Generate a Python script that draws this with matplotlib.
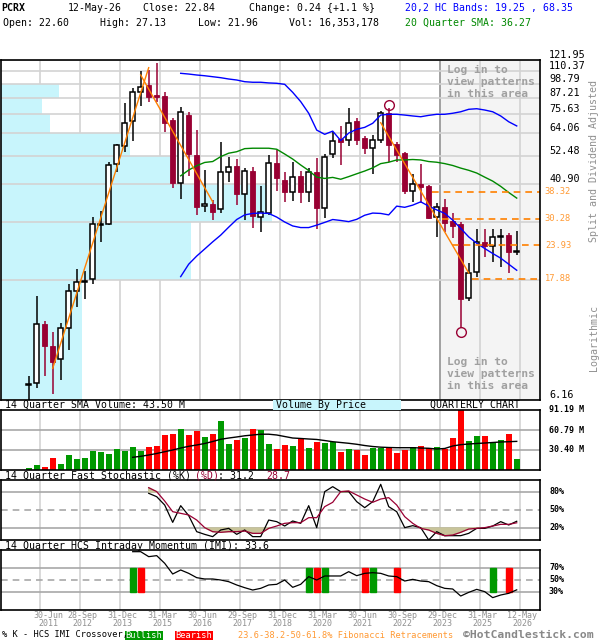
import numpy as np
import matplotlib
matplotlib.use('Agg')
import matplotlib.pyplot as plt
from matplotlib.patches import Rectangle

# Quarterly candles, Q1 2011 .. Q2 2026 (index 0..61)
opens = [7.00, 7.17, 11.97, 9.90, 8.81, 11.62, 15.98, 17.30, 17.78, 28.6,
         28.96, 48.8, 57.5, 71.6, 92.3, 97.9, 89.6, 88.9, 72.0, 41.3,
         75.2, 52.95, 33.8, 34.35, 32.9, 45.5, 48.0, 37.5, 46.0, 30.8,
         31.7, 49.2, 42.5, 38.4, 44.0, 38.2, 45.5, 33.2, 53.3, 60.9,
         60.3, 71.4, 61.3, 56.2, 60.4, 76.4, 58.2, 53.8, 38.7, 40.9,
         40.3, 30.8, 33.45, 29.7, 28.9, 15.05, 19.0, 24.7, 23.9, 25.85,
         26.2, 22.60]
highs = [7.60, 15.4, 12.36, 11.16, 12.08, 17.06, 19.46, 19.1, 30.8, 32.4,
         49.7, 58.4, 83.4, 95.1, 110.7, 111.7, 118.8, 92.3, 73.1, 80.9,
         77.0, 65.9, 46.4, 35.7, 59.2, 52.2, 51.1, 47.4, 47.5, 40.3,
         52.95, 55.3, 45.5, 49.7, 46.0, 47.1, 51.4, 53.3, 64.6, 68.5,
         79.8, 73.5, 62.6, 63.1, 77.9, 80.0, 59.5, 54.5, 44.7, 48.9,
         40.7, 34.6, 36.0, 31.7, 29.3, 20.6, 27.6, 27.6, 27.6, 27.6,
         26.7, 27.13]
lows = [6.16, 6.83, 7.63, 6.50, 7.34, 9.55, 13.97, 15.0, 17.1, 24.7,
        28.6, 45.7, 54.2, 59.9, 81.6, 84.6, 84.0, 65.0, 39.5, 35.9,
        44.1, 31.3, 32.2, 29.9, 31.7, 41.7, 34.1, 29.9, 27.8, 27.0,
        31.3, 38.6, 35.1, 35.3, 34.6, 35.1, 27.6, 30.5, 51.4, 48.5,
        57.5, 57.8, 53.4, 44.8, 58.7, 49.9, 50.0, 37.6, 35.1, 34.8,
        30.1, 25.8, 27.0, 25.5, 11.6, 14.7, 18.2, 21.7, 20.75, 19.85,
        18.8, 21.96]
closes = [7.12, 11.97, 9.93, 8.62, 11.56, 16.0, 17.4, 17.45, 28.8, 29.0,
          48.4, 57.8, 69.95, 91.8, 96.5, 88.4, 88.2, 70.3, 41.3, 77.0,
          53.3, 33.6, 34.35, 32.2, 45.5, 47.8, 37.5, 46.0, 31.1, 32.0,
          49.2, 43.2, 38.2, 43.5, 38.2, 45.5, 33.3, 52.2, 60.0, 59.5,
          70.0, 60.4, 56.2, 60.4, 76.4, 57.8, 52.95, 38.7, 40.9, 40.1,
          30.5, 33.6, 29.2, 28.5, 14.95, 18.8, 24.7, 23.9, 25.7, 26.0,
          22.66, 22.84]
volumes = [3.5, 7.6, 5.1, 18.7, 9.1, 22.8, 16.7, 18.7, 28.9, 26.9,
           24.3, 31.9, 28.9, 35.0, 28.9, 35.0, 36.5, 53.2, 54.7, 62.3,
           53.2, 59.3, 50.2, 54.7, 74.5, 39.5, 45.6, 49.1, 62.3, 60.8,
           39.5, 31.9, 38.0, 36.5, 48.2, 33.9, 43.0, 41.5, 43.0, 27.8,
           31.9, 30.4, 22.8, 33.9, 33.9, 33.9, 26.3, 30.4, 35.0, 36.5,
           33.0, 35.0, 31.4, 49.1, 91.0, 44.1, 51.7, 51.7, 42.1, 45.6,
           54.7, 16.7]  # millions

# 14 quarter volume SMA, from index 13
vol_sma = [19.3, 20.8, 22.8, 25.1, 27.8, 30.4, 33.4, 36.0, 38.0, 40.3,
           43.3, 46.7, 48.6, 50.2, 52.0, 53.2, 54.4, 54.4, 53.2, 50.9,
           48.6, 47.9, 47.1, 46.4, 44.8, 43.0, 41.8, 40.6, 39.1, 37.2,
           35.7, 34.7, 34.2, 33.9, 33.9, 33.9, 33.4, 33.0, 31.9, 32.7,
           36.5, 38.5, 39.5, 40.3, 41.0, 41.8, 42.6, 43.0, 43.5]

# 20 quarter SMA and HC bands, from index 19
sma20 = [44.1, 46.4, 48.2, 49.6, 50.0, 52.2, 53.8, 54.5, 56.0, 56.2,
         56.2, 56.2, 55.7, 53.4, 51.1, 48.5, 46.2, 43.6, 43.1, 43.5,
         42.8, 43.8, 44.9, 46.0, 47.3, 49.1, 49.7, 50.7, 50.7, 50.9,
         50.7, 50.0, 49.7, 49.1, 48.3, 47.2, 46.3, 45.2, 43.6, 42.1,
         40.2, 38.1, 36.27]
hc_upper = [108.5, 107.8, 106.9, 106.2, 105.3, 104.4, 103.2, 102.3, 100.8, 100.3,
            100.3, 99.7, 99.4, 98.5, 91.8, 84.6, 76.4, 65.9, 63.5, 65.3,
            60.1, 64.2, 66.4, 67.5, 69.95, 75.2, 75.7, 75.7, 75.2, 74.6,
            74.1, 75.0, 75.7, 75.7, 76.4, 77.4, 79.1, 79.5, 78.6, 77.4,
            74.6, 70.9, 68.35]
hc_lower = [18.2, 20.3, 21.8, 23.2, 24.7, 26.2, 28.1, 30.05, 31.3, 31.7,
            31.8, 31.7, 30.7, 29.4, 28.4, 28.0, 28.0, 28.6, 29.3, 30.05,
            29.8, 29.5, 30.1, 31.2, 31.8, 31.7, 31.3, 33.8, 33.45, 34.1,
            35.1, 33.8, 32.7, 31.7, 29.9, 27.8, 25.8, 24.4, 23.3, 22.3,
            21.4, 20.3, 19.25]

# fast stochastic %K / %D, from index 15
stoch_k = [77.8, 72.2, 58.3, 29.4, 57.2, 40.6, 13.9, 9.4, 5.6, 16.7,
           19.4, 9.4, 16.7, 5.6, 5.6, 33.3, 30.6, 23.3, 31.7, 27.8,
           57.2, 20.6, 80.6, 88.9, 80.6, 80.6, 63.9, 53.9, 63.9, 92.8,
           55.6, 47.2, 20.6, 23.9, 20.6, 0.0, 13.9, 7.2, 7.2, 7.2,
           11.1, 19.4, 19.4, 23.3, 30.6, 25.0, 31.2]
stoch_d = [87.2, 80.6, 65.0, 47.2, 44.4, 41.7, 33.3, 20.6, 13.9, 12.8,
           13.9, 13.9, 15.0, 11.1, 11.1, 19.4, 23.3, 27.8, 28.9, 28.9,
           37.2, 37.2, 55.6, 62.8, 80.6, 81.7, 75.0, 68.3, 62.8, 68.3,
           70.6, 58.3, 38.9, 27.8, 19.4, 16.7, 11.1, 7.2, 8.3, 12.8,
           18.3, 19.4, 20.6, 23.3, 26.1, 26.1, 28.7]

# intraday momentum index, from index 13
imi = [97.2, 97.2, 88.9, 90.6, 77.8, 60.0, 66.7, 61.1, 53.9, 51.7,
       51.7, 50.0, 47.2, 41.7, 37.2, 33.3, 36.1, 41.7, 42.8, 50.0,
       37.8, 42.8, 55.6, 50.0, 56.7, 56.7, 56.7, 63.9, 57.2, 61.1,
       62.2, 61.1, 56.7, 55.6, 48.3, 51.1, 48.3, 47.2, 40.6, 36.1,
       35.0, 23.3, 29.4, 34.4, 30.6, 20.6, 25.0, 27.8, 33.6]
bull_cross = [13, 35, 37, 43, 58]
bear_cross = [14, 36, 42, 46, 60]

# fibonacci retracement levels and the quarter each line starts
fib_levels = [38.32, 30.28, 23.93, 17.88]
fib_start = [50.4, 51.7, 52.9, 55.4]
fib_hi = (45, 82.0)
fib_lo = (54, 11.18)

# trend lines: (q0, p0, q1, p1)
trends = [(3, 8.13, 15, 114.0), (14, 106.9, 23, 35.1), (44, 70.3, 55, 18.8)]

# price grid and volume by price (relative, per band between grid levels)
price_grid = [121.95, 110.37, 98.79, 87.21, 75.63, 64.06, 52.48, 40.90, 29.32, 17.74, 6.16]
price_shown = [121.95, 110.37, 98.79, 87.21, 75.63, 64.06, 52.48, 40.90, 6.16]
vbp = [0, 0, 21.3, 15.0, 18.1, 47.6, 62.7, 100.0, 70.1, 29.9]

label_q = [1, 6, 11, 16, 21, 26, 31, 36, 41, 46, 51, 56, 61]
date_top = ['30-Jun', '28-Sep', '31-Dec', '31-Mar', '30-Jun', '29-Sep', '31-Dec',
            '31-Mar', '30-Jun', '30-Sep', '29-Dec', '31-Mar', '12-May']
date_bot = ['2011', '2012', '2013', '2015', '2016', '2017', '2018',
            '2020', '2021', '2022', '2023', '2025', '2026']

MAROON = '#990033'
UPG = '#009900'
DNR = '#ff0000'
CYAN = '#c8f5fc'
ORANGE = '#ff8000'
GRID = '#d3d3d3'
PGRID = '#a8a8a8'
KHAKI = '#c8c49a'

W, H = 600, 640
plt.rcParams['font.family'] = ['DejaVu Sans Mono']
fig = plt.figure(figsize=(W / 100, H / 100), dpi=100)

XMIN, XMAX = -3.46, 63.91
grid_x = [g + 0.41 for g in label_q]


def axes_px(top, bottom):
    return fig.add_axes([1 / W, 1 - bottom / H, 539 / W, (bottom - top) / H])


def ftext(px, py, s, **kw):
    kw.setdefault('fontsize', 7.1)
    kw.setdefault('va', 'center')
    return fig.text(px / W, 1 - py / H, s, **kw)


def frame(a):
    a.set_xlim(XMIN, XMAX)
    a.set_xticks([])
    a.set_yticks([])
    a.minorticks_off()
    for s in a.spines.values():
        s.set_linewidth(1.2)
        s.set_zorder(10)
    for g in grid_x:
        a.axvline(g, color=GRID, lw=1.2, zorder=0.5)


ax = axes_px(60, 400)
axv = axes_px(410, 470)
axs = axes_px(480, 540)
axi = axes_px(550, 610)

# ---- main price panel
ax.set_yscale('log')
ax.set_ylim(6.16, 121.95)
frame(ax)
ax.set_yticks([], minor=True)
ax.axvspan(grid_x[10], XMAX, color='#f4f4f4', zorder=0.2)
ax.axvline(grid_x[10], color='#999999', lw=1.2, zorder=0.7)

vmax = max(vbp)
for k in range(len(vbp)):
    if vbp[k] > 0:
        lo_p, hi_p = price_grid[k + 1], price_grid[k]
        ax.add_patch(Rectangle((0, lo_p), vbp[k] / vmax * 0.503, hi_p - lo_p,
                               transform=ax.get_yaxis_transform(),
                               facecolor=CYAN, edgecolor='none', zorder=0.8))
for p in price_grid:
    ax.axhline(p, color=GRID, lw=1.2, zorder=1)

q = np.arange(len(opens))
for i in q:
    o, h, l, c = opens[i], highs[i], lows[i], closes[i]
    up = c >= o
    col = 'black' if up else MAROON
    ax.vlines(i, l, h, color=col, lw=1.1, zorder=3)
    b, t = min(o, c), max(o, c)
    if up:
        ax.add_patch(Rectangle((i - 0.34, b), 0.68, t - b, facecolor='white',
                               edgecolor='black', lw=1.1, zorder=4))
    else:
        ax.add_patch(Rectangle((i - 0.34, b), 0.68, t - b, facecolor=MAROON,
                               edgecolor=MAROON, lw=0.6, zorder=4))

qb = np.arange(19, 62)
ax.plot(qb, hc_upper, color='#0000ff', lw=1, zorder=5)
ax.plot(qb, hc_lower, color='#0000ff', lw=1, zorder=5)
ax.plot(qb, sma20, color='#008800', lw=1, zorder=5)
for q0, p0, q1, p1 in trends:
    ax.plot([q0, q1], [p0, p1], color=ORANGE, lw=1, zorder=6)
for lev, st in zip(fib_levels, fib_start):
    ax.hlines(lev, st, XMAX, colors=ORANGE, lw=1.2, linestyles=(0, (4, 3)), zorder=6)
    ax.text(1.009, lev, f'{lev:.2f}', transform=ax.get_yaxis_transform(),
            color='#ff9933', fontsize=6.3, va='center', ha='left')
ax.plot([fib_hi[0]], [fib_hi[1]], 'o', mfc='none', mec=MAROON, ms=7, mew=1, zorder=7)
ax.plot([fib_lo[0]], [fib_lo[1]], 'o', mfc='none', mec=MAROON, ms=7, mew=1, zorder=7)

for p in price_shown:
    ax.text(1.0167, p, f'{p:.2f}', transform=ax.get_yaxis_transform(),
            fontsize=7.3, va='bottom', ha='left')
for yc in (82, 374):
    ax.text(447 / 540, 1 - (yc - 60) / 340, 'Log in to\nview patterns\nin this area',
            transform=ax.transAxes, fontsize=8.1, fontweight='bold', color='#a0a0a0',
            va='center', ha='left', linespacing=1.3, zorder=8)

ftext(594, 161, 'Split and Dividend Adjusted', rotation=90, ha='center',
      color='#909090', fontsize=7.2)
ftext(594, 338, 'Logarithmic', rotation=90, ha='center', color='#909090', fontsize=7.2)

# ---- volume panel
frame(axv)
axv.set_ylim(0, 91.19)
for lv in [30.40, 60.79]:
    axv.axhline(lv, color=PGRID, lw=1.2, zorder=0.6)
vcols = [UPG if c >= o else DNR for o, c in zip(opens, closes)]
axv.bar(q, volumes, width=0.75, color=vcols, zorder=2)
axv.plot(np.arange(13, 62), vol_sma, color='black', lw=1, zorder=3)
for lv in [91.19, 60.79, 30.40]:
    axv.text(1.0167, lv, f'{lv:.2f} M', transform=axv.get_yaxis_transform(),
             fontsize=6, fontweight='bold', va='center', ha='left')

# ---- stochastic panel
frame(axs)
axs.set_ylim(0, 100)
axs.axhline(80, color=PGRID, lw=1.2, zorder=0.6)
axs.axhline(20, color=PGRID, lw=1.2, zorder=0.6)
axs.axhline(50, color=PGRID, lw=1.2, ls=(0, (4, 3)), zorder=0.6)
qs = np.arange(15, 62)
sd = np.array(stoch_d)
axs.fill_between(qs, sd, 20, where=sd < 20, interpolate=True, color=KHAKI, zorder=1)
axs.fill_between(qs, sd, 80, where=sd > 80, interpolate=True, color=KHAKI, zorder=1)
axs.plot(qs, stoch_k, color='black', lw=0.9, zorder=3)
axs.plot(qs, stoch_d, color=MAROON, lw=0.9, zorder=3)
for lv in [80, 50, 20]:
    axs.text(1.0167, lv, f'{lv}%', transform=axs.get_yaxis_transform(),
             fontsize=6, fontweight='bold', va='center', ha='left')

# ---- IMI panel
frame(axi)
axi.set_ylim(0, 100)
axi.axhline(70, color=PGRID, lw=1.2, zorder=0.6)
axi.axhline(30, color=PGRID, lw=1.2, zorder=0.6)
axi.axhline(50, color=PGRID, lw=1.2, ls=(0, (4, 3)), zorder=0.6)
for b in bull_cross:
    axi.add_patch(Rectangle((b - 0.38, 30), 0.76, 40, color=UPG, zorder=2))
for b in bear_cross:
    axi.add_patch(Rectangle((b - 0.38, 30), 0.76, 40, color=DNR, zorder=2))
axi.plot(np.arange(13, 62), imi, color='black', lw=0.9, zorder=3)
for lv in [70, 50, 30]:
    axi.text(1.0167, lv, f'{lv}%', transform=axi.get_yaxis_transform(),
             fontsize=6, fontweight='bold', va='center', ha='left')

# date labels
for k, g in enumerate(grid_x):
    xd = g + (1.0 if k == 0 else 0.25)
    xp = (xd - XMIN) / (XMAX - XMIN) * 539 + 1
    ftext(xp, 619.5, date_top[k] + '\n' + date_bot[k], ha='center',
          color='#909090', fontsize=6.0, linespacing=0.95)

# ---- header
ftext(1, 8, 'PCRX', fontweight='bold')
ftext(68, 8, '12-May-26')
ftext(143, 8, 'Close: 22.84')
ftext(249, 8, 'Change: 0.24 {+1.1 %}')
ftext(405, 8, '20,2 HC Bands: 19.25 , 68.35', color='#0000ff')
ftext(3, 23, 'Open: 22.60')
ftext(100, 23, 'High: 27.13')
ftext(198, 23, 'Low: 21.96')
ftext(289, 23, 'Vol: 16,353,178')
ftext(405, 23, '20 Quarter SMA: 36.27', color='#008800')

# ---- panel titles
CW = 5.93
ftext(5, 405, '14 Quarter SMA Volume: 43.50 M')
fig.patches.append(Rectangle((273 / W, 1 - 410 / H), 128 / W, 10 / H,
                             transform=fig.transFigure, facecolor=CYAN, edgecolor='none'))
ftext(276, 405, 'Volume By Price')
ftext(430, 405, 'QUARTERLY CHART')
ftext(5, 476, '14 Quarter Fast Stochastic (%K)')
ftext(5 + 32 * CW, 476, '(%D)', color=MAROON)
ftext(5 + 36 * CW, 476, ': 31.2')
ftext(5 + 44 * CW, 476, '28.7', color=MAROON)
ftext(5, 546, '14 Quarter HCS Intraday Momentum (IMI): 33.6')

# ---- footer
ftext(2, 635, '% K - HCS IMI Crossover,', fontsize=6.2)
fig.patches.append(Rectangle((125 / W, 1 - 639.5 / H), 38 / W, 9 / H,
                             transform=fig.transFigure, facecolor=UPG, edgecolor='none'))
fig.patches.append(Rectangle((175 / W, 1 - 639.5 / H), 38 / W, 9 / H,
                             transform=fig.transFigure, facecolor=DNR, edgecolor='none'))
ftext(144, 635, 'Bullish', ha='center', color='white', fontsize=6.2)
ftext(194, 635, 'Bearish', ha='center', color='white', fontsize=6.2)
ftext(238, 635, '23.6-38.2-50-61.8% Fibonacci Retracements', color='#ff9933', fontsize=6.2)
ftext(463, 635.5, '\u00a9HotCandlestick.com', color='#888888', fontsize=8.2, fontweight='bold')

fig.savefig('out.png', dpi=100)
